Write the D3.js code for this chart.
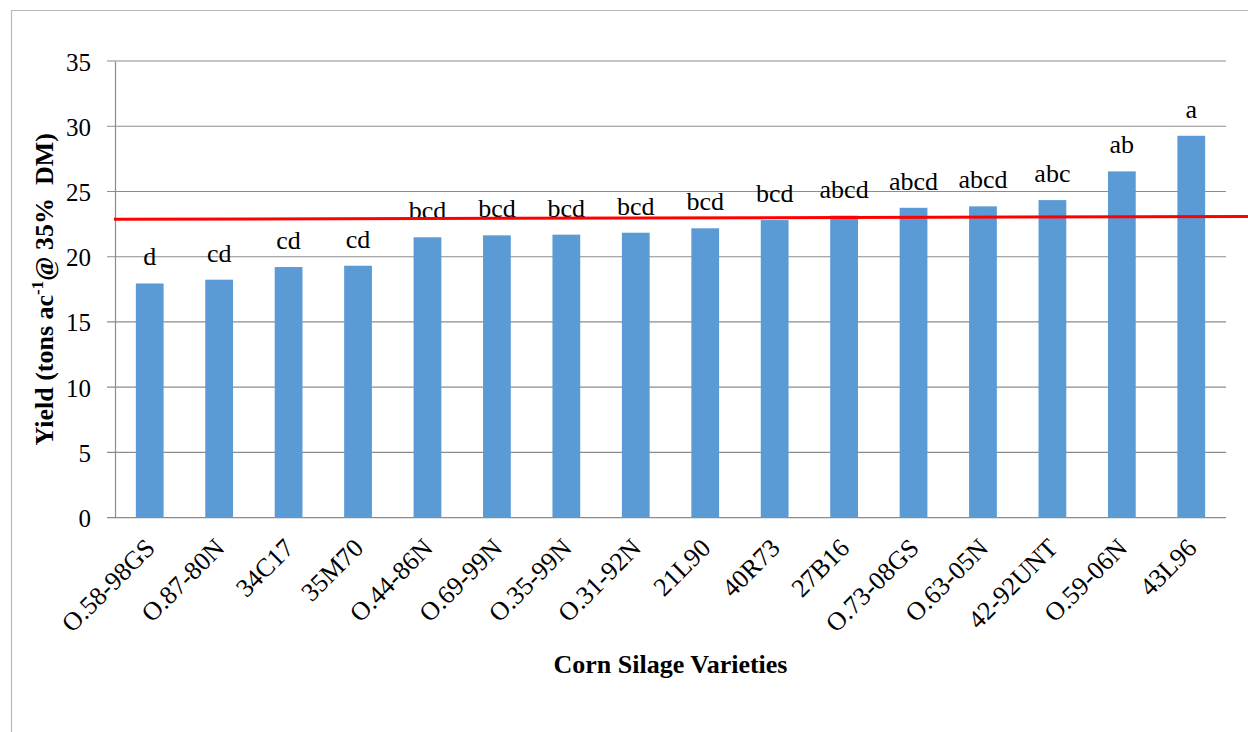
<!DOCTYPE html>
<html>
<head>
<meta charset="utf-8">
<script src="https://cdn.jsdelivr.net/npm/d3@7"></script>
<style>
  body { margin: 0; background: #fff; }
  svg { display: block; }
  svg text { font-family: "Liberation Serif", "Times New Roman", serif; fill: #000; }
</style>
</head>
<body>
<svg id="chart"></svg>
<script>
// chart data
const varieties = ["O.58-98GS", "O.87-80N", "34C17", "35M70", "O.44-86N", "O.69-99N",
  "O.35-99N", "O.31-92N", "21L90", "40R73", "27B16", "O.73-08GS", "O.63-05N",
  "42-92UNT", "O.59-06N", "43L96"];
const yields = [17.95, 18.24, 19.21, 19.31, 21.49, 21.64, 21.69, 21.84, 22.18, 22.81,
  23.15, 23.75, 23.86, 24.34, 26.54, 29.27];
const groups = ["d", "cd", "cd", "cd", "bcd", "bcd", "bcd", "bcd", "bcd", "bcd",
  "abcd", "abcd", "abcd", "abc", "ab", "a"];
const yTicks = [0, 5, 10, 15, 20, 25, 30, 35];
const refLine = [22.87, 23.08]; // red line, left end / right end

const W = 1248, H = 732;
const plot = { left: 115, right: 1226, top: 61, bottom: 517.7 };
const serif = "'Liberation Serif', 'Times New Roman', serif";

const svg = d3.select("#chart").attr("width", W).attr("height", H);

// outer frame (only left and top edges visible)
svg.append("path")
  .attr("d", `M11.5,${H} V10.5 H${W}`)
  .attr("fill", "none")
  .attr("stroke", "#b9b9b9")
  .attr("stroke-width", 1.2);

const x = d3.scaleBand()
  .domain(varieties)
  .range([plot.left, plot.right])
  .paddingInner(0.6)
  .paddingOuter(0.3);

const y = d3.scaleLinear().domain([0, 35]).range([plot.bottom, plot.top]);

// gridlines + left ticks
svg.append("g")
  .selectAll("line")
  .data(yTicks)
  .enter()
  .append("line")
  .attr("x1", plot.left - 8)
  .attr("x2", plot.right)
  .attr("y1", d => y(d))
  .attr("y2", d => y(d))
  .attr("stroke", "#8c8c8c")
  .attr("stroke-width", 1.2);

// y axis
const yAxis = svg.append("g")
  .attr("transform", `translate(${plot.left},0)`)
  .call(d3.axisLeft(y).tickValues(yTicks).tickSize(0).tickPadding(24));
yAxis.attr("font-family", null).attr("font-size", null);
yAxis.select(".domain").attr("stroke", "#8c8c8c").attr("stroke-width", 1.2);
yAxis.selectAll("text")
  .style("font-family", serif)
  .style("font-size", "25px")
  .attr("dy", "0.36em")
  .attr("fill", "#000");

// bars
svg.append("g")
  .selectAll("rect")
  .data(yields)
  .enter()
  .append("rect")
  .attr("x", (d, i) => x(varieties[i]))
  .attr("width", x.bandwidth())
  .attr("y", d => y(d))
  .attr("height", d => y(0) - y(d))
  .attr("fill", "#5b9bd5");

// significance letters
svg.append("g")
  .selectAll("text")
  .data(groups)
  .enter()
  .append("text")
  .attr("x", (d, i) => x(varieties[i]) + x.bandwidth() / 2)
  .attr("y", (d, i) => y(yields[i]) - 18)
  .attr("text-anchor", "middle")
  .style("font-family", serif)
  .style("font-size", "26px")
  .text(d => d);

// red reference line
svg.append("line")
  .attr("x1", plot.left - 1)
  .attr("x2", W)
  .attr("y1", y(refLine[0]))
  .attr("y2", y(refLine[1]))
  .attr("stroke", "#ff0000")
  .attr("stroke-width", 3);

// category labels, rotated
svg.append("g")
  .selectAll("text")
  .data(varieties)
  .enter()
  .append("text")
  .attr("transform", d => `translate(${x(d) + x.bandwidth() / 2 - 6},${plot.bottom + 19}) rotate(-45)`)
  .attr("text-anchor", "end")
  .attr("dy", "0.7em")
  .style("font-family", serif)
  .style("font-size", "26px")
  .text(d => d);

// axis titles
svg.append("text")
  .attr("x", (plot.left + plot.right) / 2)
  .attr("y", 673)
  .attr("text-anchor", "middle")
  .style("font-family", serif)
  .style("font-size", "26px")
  .style("font-weight", "bold")
  .text("Corn Silage Varieties");

const yTitle = svg.append("text")
  .attr("transform", `translate(53,${(plot.top + plot.bottom) / 2}) rotate(-90)`)
  .attr("text-anchor", "middle")
  .style("font-family", serif)
  .style("font-size", "26px")
  .style("font-weight", "bold");
yTitle.append("tspan").text("Yield (tons ac");
yTitle.append("tspan").style("font-size", "17px").attr("dy", -10).text("-1");
yTitle.append("tspan").attr("dy", 10).text("@ 35%\u00a0 DM)");
</script>
</body>
</html>
